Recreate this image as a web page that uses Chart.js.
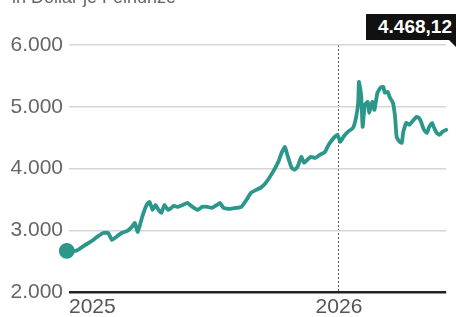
<!DOCTYPE html>
<html>
<head>
<meta charset="utf-8">
<script src="https://cdn.jsdelivr.net/npm/chart.js@4/dist/chart.umd.min.js"></script>
<style>
  body { margin: 0; background: #fff; }
  #wrap { position: relative; width: 456px; height: 317px; overflow: hidden; background: #fff; }
  #unit { position: absolute; left: 12px; top: -12px; font: 18px "Liberation Sans", Arial, sans-serif; line-height: 18px; color: #666; white-space: nowrap; }
  #tip { position: absolute; left: 366px; top: 14px; width: 110px; height: 26px; background: #111; color: #fff;
         font: bold 19px "Liberation Sans", Arial, sans-serif; line-height: 26px; padding-left: 12px; box-sizing: border-box; white-space: nowrap; }
  #tipArrow { position: absolute; left: 449px; top: 40px; width: 0; height: 0; border-left: 7px solid transparent; border-top: 7px solid #111; }
  canvas { position: absolute; left: 0; top: 0; }
</style>
</head>
<body>
<div id="wrap">
  <canvas id="myChart" width="456" height="317"></canvas>
  <div id="unit">in Dollar je Feinunze</div>
  <div id="tip">4.468,12</div>
  <div id="tipArrow"></div>
</div>
<script>
// days since 1 Jan 2025, gold price in dollars
var days = [-3, 9, 16, 22, 29, 38, 46, 53, 58, 64, 71, 79, 85, 89, 93, 99, 105, 109, 113, 117,
  121, 125, 129, 134, 142, 147, 154, 160, 167, 174, 180, 187, 193, 200, 204, 209, 217, 226, 233, 239,
  246, 253, 259, 266, 275, 283, 288, 292, 296, 301, 305, 309, 314, 318, 322, 327, 333, 339, 346, 351,
  358, 363, 367, 371, 377, 384, 388, 391, 392, 395, 397, 400, 404, 406, 410, 413, 417, 421, 425, 427,
  431, 434, 438, 441, 443, 447, 450, 452, 456, 460, 466, 470, 473, 476, 480, 484, 487, 491, 493, 497,
  501, 505, 510];
var prices = [2665, 2665, 2713, 2762, 2811, 2892, 2956, 2956, 2843, 2892, 2956, 2989, 3054, 3118, 2973, 3216, 3410, 3459, 3329, 3410,
  3329, 3281, 3410, 3329, 3394, 3378, 3410, 3443, 3378, 3329, 3378, 3378, 3362, 3410, 3443, 3362, 3345, 3362, 3378, 3475,
  3605, 3653, 3686, 3767, 3929, 4107, 4269, 4350, 4188, 4010, 3978, 4026, 4188, 4091, 4140, 4188, 4172, 4221, 4269, 4383,
  4496, 4545, 4432, 4513, 4594, 4658, 4821, 5064, 5404, 5193, 4675, 5031, 5080, 4902, 5080, 4950, 5226, 5307, 5323, 5226,
  5242, 5145, 5064, 4821, 4513, 4432, 4415, 4594, 4740, 4707, 4788, 4837, 4821, 4756, 4626, 4577, 4675, 4740, 4675, 4577,
  4545, 4594, 4626];

var yearTicks = [0, 365, 510];
var yearLabels = ["2025", "2026", ""];
var yTicks = [2000, 3000, 4000, 5000, 6000];

function fmt(v) {
  return String(v).replace(/\B(?=(\d{3})+(?!\d))/g, ".");
}

var points = [];
for (var i = 0; i < days.length; i++) {
  points.push({ x: days[i], y: prices[i] });
}

var ctx = document.getElementById("myChart").getContext("2d");
var myChart = new Chart(ctx, {
  type: "line",
  data: {
    datasets: [{
      data: points,
      borderColor: "#2a978a",
      backgroundColor: "#2a978a",
      borderWidth: 3.8,
      tension: 0.12,
      fill: false,
      clip: false,
      pointRadius: function (c) { return c.dataIndex === 0 ? 6 : 0; },
      pointHoverRadius: 0,
      borderCapStyle: "round",
      borderJoinStyle: "round"
    }]
  },
  options: {
    responsive: false,
    animation: false,
    layout: { padding: { top: 45, right: 0, left: 0, bottom: 0 } },
    plugins: { legend: { display: false }, tooltip: { enabled: false } },
    scales: {
      x: {
        type: "linear",
        min: 0,
        max: 510,
        afterBuildTicks: function (scale) {
          scale.ticks = yearTicks.map(function (v) { return { value: v }; });
        },
        afterFit: function (scale) { scale.height = 25; },
        grid: {
          drawTicks: false,
          lineWidth: 1,
          color: function (c) { return c.tick && c.tick.value === 365 ? "#555" : "rgba(0,0,0,0)"; }
        },
        border: { display: false, dash: [2, 2] },
        ticks: {
          align: "inner",
          autoSkip: false,
          maxRotation: 0,
          padding: 3,
          color: "#555",
          font: { family: "Liberation Sans", size: 21 },
          callback: function (v) {
            var k = yearTicks.indexOf(v);
            return k >= 0 ? yearLabels[k] : "";
          }
        }
      },
      y: {
        min: 2000,
        max: 6000,
        afterBuildTicks: function (scale) {
          scale.ticks = yTicks.map(function (v) { return { value: v }; });
        },
        afterFit: function (scale) { scale.width = 69; },
        grid: {
          drawTicks: false,
          color: function (c) { return c.tick && c.tick.value === 2000 ? "#222" : "#d6d6d6"; },
          lineWidth: function (c) { return c.tick && c.tick.value === 2000 ? 2.5 : 1.5; }
        },
        border: { display: false },
        ticks: {
          padding: 6,
          color: "#666",
          font: { family: "Liberation Sans", size: 21 },
          callback: function (v) { return fmt(v); }
        }
      }
    }
  }
});
</script>
</body>
</html>
